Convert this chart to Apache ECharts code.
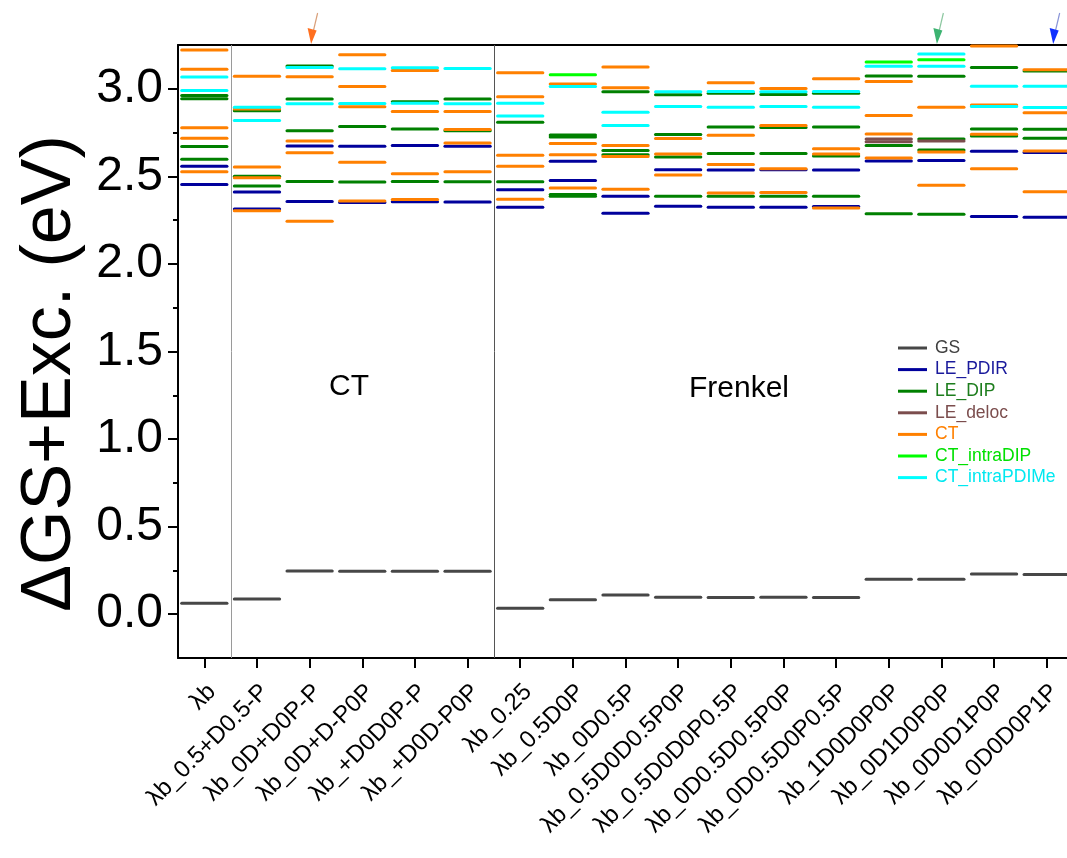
<!DOCTYPE html>
<html>
<head>
<meta charset="utf-8">
<script src="https://cdn.jsdelivr.net/npm/echarts@6/dist/echarts.min.js"></script>
<style>
  html, body { margin: 0; padding: 0; background: #ffffff; }
  #chart { width: 1067px; height: 858px; }
</style>
</head>
<body>
<div id="chart"></div>
<script>
// Geometry labels along the x axis
const categories = [
  'λb', 'λb_0.5+D0.5-P', 'λb_0D+D0P-P', 'λb_0D+D-P0P', 'λb_+D0D0P-P', 'λb_+D0D-P0P',
  'λb_0.25', 'λb_0.5D0P', 'λb_0D0.5P', 'λb_0.5D0D0.5P0P', 'λb_0.5D0D0P0.5P',
  'λb_0D0.5D0.5P0P', 'λb_0D0.5D0P0.5P', 'λb_1D0D0P0P', 'λb_0D1D0P0P', 'λb_0D0D1P0P', 'λb_0D0D0P1P'
];

// Energy axis ticks (eV)
const yMajorTicks = [0, 0.5, 1.0, 1.5, 2.0, 2.5, 3.0];
const yMinorTicks = [0.25, 0.75, 1.25, 1.75, 2.25, 2.75];

// Levels per geometry (one inner list per category), eV
const GS = [
  [0.062], [0.087], [0.247], [0.245], [0.246], [0.245],
  [0.034], [0.083], [0.109], [0.097], [0.096], [0.097], [0.096],
  [0.200], [0.200], [0.229], [0.227]
];

const LE_PDIR = [
  [2.557, 2.454], [2.410, 2.313], [2.674, 2.357], [2.672, 2.351], [2.676, 2.355], [2.672, 2.353],
  [2.424, 2.323], [2.586, 2.477], [2.387, 2.290], [2.538, 2.330], [2.536, 2.323], [2.538, 2.324],
  [2.536, 2.328], [2.588], [2.590], [2.643, 2.271], [2.636, 2.267]
];

const LE_DIP = [
  [2.962, 2.943, 2.670, 2.597],
  [2.874, 2.500, 2.445],
  [3.130, 2.941, 2.760, 2.471],
  [2.784, 2.468],
  [2.926, 2.771, 2.471],
  [2.941, 2.761, 2.469],
  [2.809, 2.469],
  [2.736, 2.725, 2.397, 2.386],
  [2.983, 2.647, 2.624],
  [2.966, 2.739, 2.611, 2.386],
  [2.975, 2.782, 2.630, 2.386],
  [2.968, 2.779, 2.630, 2.386],
  [2.975, 2.782, 2.616, 2.386],
  [3.073, 2.676, 2.286],
  [3.071, 2.714, 2.651, 2.284],
  [3.122, 2.771, 2.731],
  [3.101, 2.769, 2.718]
];

const LE_deloc = [
  [], [], [], [], [], [], [], [], [], [], [], [], [],
  [2.714, 2.698], [2.702], [], []
];

const CT = [
  [3.221, 3.111, 2.777, 2.718, 2.527],
  [3.071, 2.884, 2.553, 2.492, 2.303],
  [3.069, 2.702, 2.635, 2.244],
  [3.195, 3.013, 2.897, 2.580, 2.359],
  [3.105, 2.870, 2.515, 2.368],
  [2.870, 2.767, 2.691, 2.527],
  [3.092, 2.954, 2.620, 2.557, 2.370],
  [3.027, 2.687, 2.624, 2.433],
  [3.124, 3.006, 2.676, 2.613, 2.426],
  [2.716, 2.628, 2.508],
  [3.034, 2.735, 2.567, 2.405],
  [3.002, 2.790, 2.544, 2.408],
  [3.057, 2.658, 2.628, 2.319],
  [3.042, 2.847, 2.742, 2.605],
  [2.895, 2.639, 2.449],
  [3.244, 2.908, 2.740, 2.544],
  [3.109, 2.863, 2.645, 2.412]
];

const CT_intraDIP = [
  [], [], [], [], [], [], [], [3.080], [], [], [], [], [],
  [3.153], [3.166], [], []
];

const CT_intraPDIMe = [
  [3.067, 2.990], [2.895, 2.819], [3.122, 2.914], [3.115, 2.916], [3.120, 2.918], [3.116, 2.914],
  [2.918, 2.844], [3.013], [2.866, 2.790], [2.983, 2.899], [2.985, 2.895], [2.983, 2.899],
  [2.985, 2.895], [3.128], [3.198, 3.128], [3.015, 2.899], [3.015, 2.893]
];

const seriesDefs = [
  { name: 'GS',            levels: GS,            color: '#474747', text: '#404040' },
  { name: 'LE_PDIR',       levels: LE_PDIR,       color: '#00009c', text: '#1a1a9c' },
  { name: 'LE_DIP',        levels: LE_DIP,        color: '#008000', text: '#1d7d1d' },
  { name: 'LE_deloc',      levels: LE_deloc,      color: '#7b4d4d', text: '#7b4d4d' },
  { name: 'CT',            levels: CT,            color: '#ff8000', text: '#ff8000' },
  { name: 'CT_intraDIP',   levels: CT_intraDIP,   color: '#00ff00', text: '#00e000' },
  { name: 'CT_intraPDIMe', levels: CT_intraPDIMe, color: '#00ffff', text: '#00e8f0' }
];

const FONT = '"Liberation Sans", Arial, sans-serif';

// One short horizontal bar per level, centred on its category band
function levelRenderer(params, api) {
  const c = api.coord([api.value(0), api.value(1)]);
  const bw = api.size([1, 0])[0];
  const hw = bw * 0.43;
  return {
    type: 'line',
    shape: { x1: c[0] - hw, y1: c[1], x2: c[0] + hw, y2: c[1] },
    style: { stroke: api.visual('color'), lineWidth: 3, lineCap: 'round' }
  };
}

const series = seriesDefs.map(d => {
  const data = [];
  d.levels.forEach((vals, i) => vals.forEach(v => data.push([i, v])));
  return {
    name: d.name,
    type: 'custom',
    renderItem: levelRenderer,
    itemStyle: { color: d.color },
    encode: { x: 0, y: 1 },
    data: data,
    clip: false,
    z: 3
  };
});

// Vertical separators between the groups of geometries
series.push({
  name: 'separators',
  type: 'custom',
  data: [[0], [5]],
  renderItem: function (params, api) {
    const idx = api.value(0);
    const bw = api.size([1, 0])[0];
    const top = api.coord([idx, 3.25]);
    const bot = api.coord([idx, -0.25]);
    const x = Math.round(top[0] + bw / 2) + 0.5;
    return {
      type: 'line',
      shape: { x1: x, y1: top[1], x2: x, y2: bot[1] },
      style: { stroke: params.dataIndex === 0 ? '#9a9a9a' : '#555555', lineWidth: 1 }
    };
  },
  encode: { x: 0 },
  silent: true,
  z: 1
});

const chart = echarts.init(document.getElementById('chart'), null, { renderer: 'canvas' });

const option = {
  backgroundColor: '#ffffff',
  animation: false,
  grid: { left: 178, right: -6, top: 45, bottom: 200, containLabel: false, outerBoundsMode: 'none' },
  legend: {
    orient: 'vertical',
    left: 893,
    top: 334,
    icon: 'rect',
    itemWidth: 29,
    itemHeight: 3,
    itemGap: 3.6,
    textStyle: { fontFamily: FONT, fontSize: 17.5, lineHeight: 17.5, padding: [0, 0, 0, 3] },
    data: seriesDefs.map(d => ({ name: d.name, textStyle: { color: d.text } }))
  },
  xAxis: [
    {
      type: 'category',
      data: categories,
      boundaryGap: true,
      axisLine: { show: true, onZero: false, lineStyle: { color: '#000', width: 2 } },
      axisTick: { show: true, alignWithLabel: true, length: 10, lineStyle: { color: '#000', width: 2 } },
      axisLabel: {
        interval: 0, rotate: 45, margin: 38, padding: [0, -11, 0, 0],
        fontFamily: FONT, fontSize: 24, color: '#000'
      },
      splitLine: { show: false }
    },
    {
      type: 'category',
      data: categories,
      position: 'top',
      boundaryGap: true,
      axisLine: { show: true, onZero: false, lineStyle: { color: '#000', width: 2 } },
      axisTick: { show: false },
      axisLabel: { show: false },
      splitLine: { show: false }
    }
  ],
  yAxis: [
    {
      type: 'value',
      min: -0.25,
      max: 3.25,
      name: 'ΔGS+Exc. (eV)',
      nameLocation: 'middle',
      nameGap: 78,
      nameTextStyle: { fontFamily: FONT, fontSize: 70, color: '#000', padding: [0, 44, 0, 0] },
      axisLine: { show: true, onZero: false, lineStyle: { color: '#000', width: 2 } },
      axisTick: { show: true, length: 10, customValues: yMajorTicks, lineStyle: { color: '#000', width: 2 } },
      axisLabel: {
        customValues: yMajorTicks, margin: 15,
        fontFamily: FONT, fontSize: 48, color: '#000',
        formatter: v => v.toFixed(1)
      },
      splitLine: { show: false }
    },
    {
      type: 'value',
      min: -0.25,
      max: 3.25,
      position: 'left',
      axisLine: { show: false, onZero: false },
      axisTick: { show: true, length: 5, customValues: yMinorTicks, lineStyle: { color: '#000', width: 2 } },
      axisLabel: { show: false },
      splitLine: { show: false }
    }
  ],
  graphic: [
    {
      type: 'text', left: 329, top: 372,
      style: { text: 'CT', fontFamily: FONT, fontSize: 30, fill: '#000' }
    },
    {
      type: 'text', left: 689, top: 374,
      style: { text: 'Frenkel', fontFamily: FONT, fontSize: 30, fill: '#000' }
    }
  ],
  series: series
};

chart.setOption(option);

// Small marker arrows above selected geometries
const arrowDefs = [
  { idx: 2,  dx: 2,  head: '#ff7020', stem: '#d9a07a' },
  { idx: 14, dx: -4, head: '#3cb371', stem: '#8cc7a0' },
  { idx: 16, dx: 7,  head: '#1030ff', stem: '#8a95d8' }
];
const arrows = arrowDefs.map(a => {
  const cx = chart.convertToPixel({ xAxisIndex: 0 }, a.idx) + a.dx;
  return {
    type: 'group',
    children: [
      { type: 'line', shape: { x1: cx + 6, y1: 13, x2: cx + 1.5, y2: 32 }, style: { stroke: a.stem, lineWidth: 1.2 } },
      { type: 'polygon', shape: { points: [[cx - 4, 28], [cx + 5, 30.5], [cx - 0.5, 44]] }, style: { fill: a.head } }
    ]
  };
});
chart.setOption({ graphic: option.graphic.concat(arrows) });
</script>
</body>
</html>
